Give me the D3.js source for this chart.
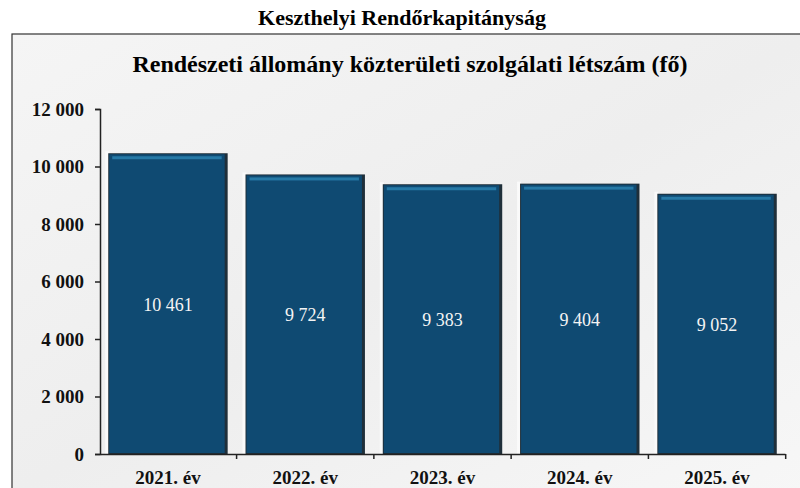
<!DOCTYPE html>
<head><style>body { margin: 0; background: #fff; } svg { display: block; } text { font-family: 'Liberation Serif', 'Times New Roman', Times, serif; }</style></head>
<body>
    <div class="container"></div>
    <script src="https://d3js.org/d3.v7.min.js"></script>
    <script>
        var years = ['2021. év', '2022. év', '2023. év', '2024. év', '2025. év'];
        var counts = [10461, 9724, 9383, 9404, 9052];
        var yTicks = [0, 2000, 4000, 6000, 8000, 10000, 12000];

        var svg = d3.select('.container')
                    .append('svg')
                    .attr('width', 800)
                    .attr('height', 488);

        var serif = "'Liberation Serif', 'Times New Roman', Times, serif";

        // frame with pale background
        var grad = svg.append('defs').append('linearGradient')
                      .attr('id', 'bg').attr('x1', 0).attr('y1', 0).attr('x2', 1).attr('y2', 1);
        grad.append('stop').attr('offset', '0%').attr('stop-color', '#f5f5f5');
        grad.append('stop').attr('offset', '50%').attr('stop-color', '#eeeeee');
        grad.append('stop').attr('offset', '100%').attr('stop-color', '#f7f7f7');

        svg.append('rect')
           .attr('x', 12).attr('y', 34).attr('width', 800).attr('height', 460)
           .attr('fill', 'url(#bg)')
           .attr('stroke', '#333').attr('stroke-width', 1.2);

        svg.append('text')
           .attr('x', 402).attr('y', 25)
           .attr('text-anchor', 'middle')
           .attr('font-family', serif).style('font-weight', 'bold').style('font-size', '22px')
           .text('Keszthelyi Rendőrkapitányság');

        svg.append('text')
           .attr('x', 410).attr('y', 72)
           .attr('text-anchor', 'middle')
           .attr('font-family', serif).style('font-weight', 'bold').style('font-size', '24px')
           .text('Rendészeti állomány közterületi szolgálati létszám (fő)');

        var x = d3.scaleBand()
                  .domain(years)
                  .range([100, 785])
                  .paddingInner(0.13)
                  .paddingOuter(0.06);

        var y = d3.scaleLinear()
                  .domain([0, 12000])
                  .range([454, 109]);

        var fmtSpace = function (v) { return d3.format(',')(v).replace(/,/g, ' '); };

        var bars = svg.append('g').selectAll('g')
                      .data(counts)
                      .enter().append('g');

        // light bevel on the left
        bars.append('rect')
            .attr('x', function (d, i) { return x(years[i]) - 3; })
            .attr('y', function (d) { return y(d) - 2; })
            .attr('width', 4)
            .attr('height', function (d) { return y(0) - y(d) + 2; })
            .attr('fill', '#fafafa');

        bars.append('rect')
            .attr('x', function (d, i) { return x(years[i]); })
            .attr('y', function (d) { return y(d); })
            .attr('width', x.bandwidth())
            .attr('height', function (d) { return y(0) - y(d); })
            .attr('fill', '#1f2f3a');

        bars.append('rect')
            .attr('x', function (d, i) { return x(years[i]) + 1; })
            .attr('y', function (d) { return y(d) + 1; })
            .attr('width', x.bandwidth() - 4)
            .attr('height', function (d) { return y(0) - y(d) - 2; })
            .attr('fill', '#0f4a72');

        bars.append('rect')
            .attr('x', function (d, i) { return x(years[i]) + 4; })
            .attr('y', function (d) { return y(d) + 3; })
            .attr('width', x.bandwidth() - 10)
            .attr('height', 3)
            .attr('fill', '#2679a6');

        bars.append('text')
            .attr('x', function (d, i) { return x(years[i]) + x.bandwidth() / 2; })
            .attr('y', function (d) { return (y(d) + y(0)) / 2 + 7; })
            .attr('text-anchor', 'middle')
            .attr('fill', '#f4f4f4')
            .attr('font-family', serif).style('font-size', '18px')
            .text(function (d) { return fmtSpace(d); });

        var yAxis = svg.append('g')
                       .attr('transform', 'translate(100,0)')
                       .call(d3.axisLeft(y).tickValues(yTicks).tickSize(5).tickPadding(11)
                               .tickFormat(fmtSpace));
        yAxis.attr('font-family', serif);
        yAxis.select('.domain').attr('stroke', '#222').attr('stroke-width', 1.5);
        yAxis.selectAll('.tick line').attr('stroke', '#222').attr('stroke-width', 1.5);
        yAxis.selectAll('text')
             .attr('font-family', serif).style('font-weight', 'bold').style('font-size', '19px')
             .attr('fill', '#111');

        var xAxis = svg.append('g')
                       .attr('transform', 'translate(0,454)')
                       .call(d3.axisBottom(x).tickSize(0).tickPadding(17).tickSizeOuter(0));
        xAxis.attr('font-family', serif);
        xAxis.select('.domain').attr('stroke', '#222').attr('stroke-width', 1.5);
        xAxis.selectAll('text')
             .attr('font-family', serif).style('font-weight', 'bold').style('font-size', '19px')
             .attr('fill', '#111');

        // boundary ticks between categories
        svg.append('g').selectAll('line')
           .data(years)
           .enter().append('line')
           .attr('x1', function (d) { return x(d) + x.bandwidth() + x.step() * x.paddingInner() / 2; })
           .attr('x2', function (d) { return x(d) + x.bandwidth() + x.step() * x.paddingInner() / 2; })
           .attr('y1', 454).attr('y2', 459)
           .attr('stroke', '#222').attr('stroke-width', 1.5);
    </script>
</body>
